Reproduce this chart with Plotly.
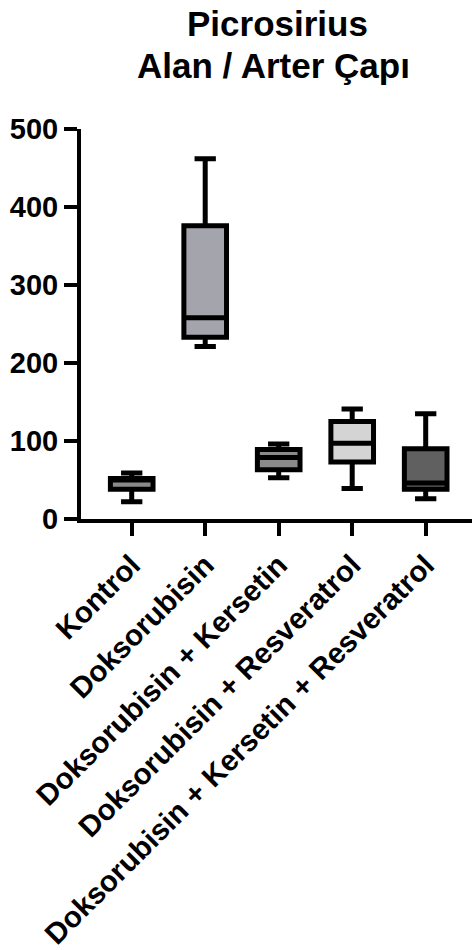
import plotly.graph_objects as go

categories = ["Kontrol", "Doksorubisin", "Doksorubisin + Kersetin",
              "Doksorubisin + Resveratrol", "Doksorubisin + Kersetin + Resveratrol"]
minimum = [22, 221, 53, 39, 26]
q1 = [38, 233, 63, 73, 38]
median = [50, 258, 79, 97, 46]
q3 = [52, 376, 89, 125, 90]
maximum = [59, 462, 96, 141, 135]
fills = ["#8a8a8a", "#a4a4ac", "#8a8a8a", "#d4d4d4", "#606060"]
y_ticks = [0, 100, 200, 300, 400, 500]
title_lines = ["Picrosirius", "Alan / Arter Çapı"]

FONT = "Liberation Sans, Arial, sans-serif"

fig = go.Figure()
for i, c in enumerate(categories):
    fig.add_trace(go.Box(
        x=[c], q1=[q1[i]], median=[median[i]], q3=[q3[i]],
        lowerfence=[minimum[i]], upperfence=[maximum[i]],
        fillcolor=fills[i], line=dict(color="black", width=5),
        width=0.58, whiskerwidth=0.5, boxpoints=False, showlegend=False,
        hoverinfo="skip",
    ))

for txt, cx, cy in zip(title_lines, [277, 273], [23, 66]):
    fig.add_annotation(text=txt, xref="paper", yref="paper",
                       x=(cx - 81) / 391, y=(519 - cy) / 390,
                       xanchor="center", yanchor="middle", showarrow=False,
                       font=dict(family=FONT, size=35, color="black", weight="bold"))

fig.update_layout(
    width=472, height=950,
    margin=dict(l=81, r=0, t=129, b=431, autoexpand=False),
    paper_bgcolor="white", plot_bgcolor="white",
    xaxis=dict(type="category", range=[-0.69, 4.63], showline=True, linecolor="black",
               linewidth=4, ticks="outside", ticklen=13, tickwidth=4, tickcolor="black",
               tickangle=-45, showgrid=False, zeroline=False, automargin=False,
               tickfont=dict(family=FONT, size=29.5, color="black", weight="bold")),
    yaxis=dict(range=[0, 500], tickvals=y_ticks, showline=True, linecolor="black",
               linewidth=4, ticks="outside", ticklen=13, tickwidth=4, tickcolor="black",
               showgrid=False, zeroline=False, automargin=False,
               tickfont=dict(family=FONT, size=29, color="black", weight="bold")),
)

fig.write_html("out.html", config={"displayModeBar": False},
               post_script="document.body.style.margin='0';document.body.style.overflow='hidden';")
